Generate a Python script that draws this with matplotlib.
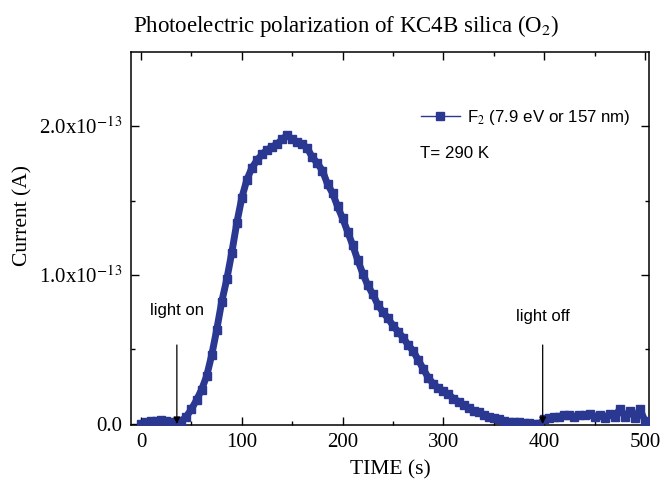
import numpy as np
import matplotlib
matplotlib.use("Agg")
import matplotlib.pyplot as plt
from matplotlib.lines import Line2D
from matplotlib.ticker import FuncFormatter, FixedLocator

BLUE = "#2B3892"
SERIF = "Liberation Serif"
SANS = "Liberation Sans"
plt.rcParams["mathtext.fontset"] = "stix"

# sampled every 5 s, 0 .. 500 s
time_s = np.arange(0, 505, 5)
# current in units of 1e-13 A
current_e13 = [
    0.00, 0.01, 0.02, 0.02, 0.025, 0.02, 0.015, 0.01, 0.02, 0.05,
    0.10, 0.16, 0.23, 0.32, 0.46, 0.63, 0.82, 0.97, 1.15, 1.35,
    1.52, 1.64, 1.72, 1.77, 1.81, 1.84, 1.86, 1.88, 1.91, 1.94,
    1.91, 1.89, 1.88, 1.85, 1.79, 1.75, 1.70, 1.61, 1.55, 1.46,
    1.38, 1.29, 1.20, 1.10, 1.01, 0.93, 0.87, 0.80, 0.75, 0.71,
    0.66, 0.62, 0.58, 0.53, 0.49, 0.43, 0.37, 0.31, 0.27, 0.24,
    0.22, 0.20, 0.17, 0.15, 0.13, 0.11, 0.09, 0.08, 0.06, 0.05,
    0.04, 0.03, 0.02, 0.015, 0.01, 0.01, 0.005, 0.005, 0.003, 0.0,
    0.03, 0.04, 0.05, 0.05, 0.06, 0.06, 0.05, 0.06, 0.06, 0.07,
    0.05, 0.06, 0.04, 0.07, 0.05, 0.10, 0.05, 0.09, 0.04, 0.10,
    0.02,
]
current = np.array(current_e13) * 1e-13

x_major = [0, 100, 200, 300, 400, 500]
x_minor = [50, 150, 250, 350, 450]
y_major = [0.0, 1e-13, 2e-13]
y_minor = [0.5e-13, 1.5e-13]

light_on_t = 35.5
light_off_t = 398.5

fig = plt.figure(figsize=(6.68, 4.94), dpi=100)
ax = fig.add_axes([131 / 668, 69 / 494, 518 / 668, 373 / 494])

# dense band (thick line) + square markers
ax.plot(time_s, current, color=BLUE, lw=5.0, solid_capstyle="butt", zorder=3)
ax.plot(time_s, current, color=BLUE, lw=1, marker="s", ms=5.5, mec=BLUE, zorder=4)

ax.set_xlim(-10, 504)
ax.set_ylim(-0.007e-13, 2.497e-13)

ax.xaxis.set_major_locator(FixedLocator(x_major))
ax.xaxis.set_minor_locator(FixedLocator(x_minor))
ax.yaxis.set_major_locator(FixedLocator(y_major))
ax.yaxis.set_minor_locator(FixedLocator(y_minor))


def yfmt(v, pos):
    if abs(v) < 1e-20:
        return "0.0"
    return "%.1fx10$^{-13}$" % (v / 1e-13)


ax.yaxis.set_major_formatter(FuncFormatter(yfmt))
ax.tick_params(which="both", direction="in", top=True, right=True, width=1)
ax.tick_params(which="major", length=6, labelsize=15, pad=6)
ax.tick_params(which="minor", length=3)
for lab in ax.get_xticklabels() + ax.get_yticklabels():
    lab.set_fontfamily(SERIF)
for sp in ax.spines.values():
    sp.set_linewidth(1.1)

ax.set_xlabel("TIME (s)", fontsize=15.5, family=SERIF, labelpad=6)
ax.set_ylabel("Current (A)", fontsize=15.5, family=SERIF)
ax.yaxis.set_label_coords(-0.19, 0.563)

fig.text(133 / 668, 1 - 26 / 494, "Photoelectric polarization of KC4B silica (O$_2$)",
         fontsize=16.5, family=SERIF, ha="left", va="center")

# legend
handle = Line2D([], [], color=BLUE, lw=1, marker="s", ms=6, mec=BLUE)
leg = ax.legend([handle], ["F$_2$ (7.9 eV or 157 nm)"], loc="upper left",
                bbox_to_anchor=(0.53, 0.89), frameon=False, handlelength=2.3,
                handletextpad=0.4, prop={"family": SANS, "size": 12.2})
ax.text(0.557, 0.728, "T= 290 K", transform=ax.transAxes, fontsize=12.2,
        family=SANS, ha="left", va="center")

# light on / off markers
for t, label, ytxt in [(light_on_t, "light on", 0.76), (light_off_t, "light off", 0.72)]:
    ax.annotate("", xy=(t, 0.0), xytext=(t, 0.53e-13),
                arrowprops=dict(arrowstyle="-|>", color="black", lw=0.9,
                                mutation_scale=10, shrinkA=0, shrinkB=0), zorder=5)
    ax.text(t, ytxt * 1e-13, label, fontsize=12, family=SANS,
            ha="center", va="center")

fig.savefig("out.png", dpi=100, facecolor="white")
